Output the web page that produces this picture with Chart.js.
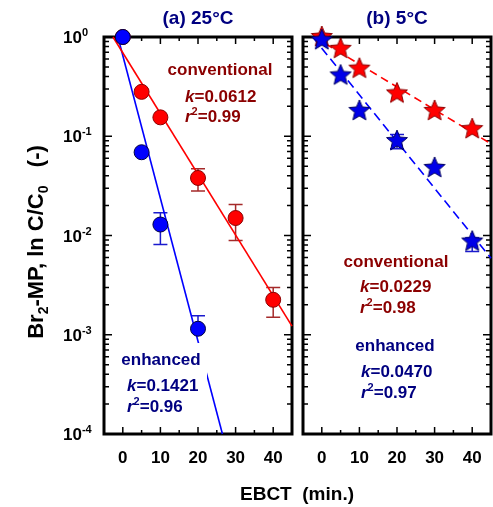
<!DOCTYPE html>
<html>
<head>
<meta charset="utf-8">
<script src="https://cdn.jsdelivr.net/npm/chart.js@4.4.1/dist/chart.umd.min.js"></script>
<style>
  body { margin: 0; background: #fff; }
  #wrap { position: relative; width: 493px; height: 507px; overflow: hidden; }
  #wrap canvas { position: absolute; left: 0; top: 0; }
</style>
</head>
<body>
<div id="wrap">
  <canvas id="panelA" width="493" height="507"></canvas>
  <canvas id="panelB" width="540" height="507"></canvas>
</div>
<script>
// ---------------- data ----------------
const ebct = [0, 5, 10, 20, 30, 40];

// (a) 25 C
const conv25 = [1.0, 0.28, 0.155, 0.038, 0.015, 0.00225];
const conv25Hi = [null, null, null, 0.047, 0.0205, 0.0030];
const conv25Lo = [null, null, null, 0.028, 0.0089, 0.0015];
const enh25X = [0, 5, 10, 20];
const enh25 = [1.0, 0.069, 0.0129, 0.00115];
const enh25Hi = [null, null, 0.017, 0.00155];
const enh25Lo = [null, null, 0.0081, null];
// fitted lines, end points
const conv25FitX = [-2.6, 45];
const conv25Fit = [1, 0.00122];
const enh25FitX = [-1.3, 26.5];
const enh25Fit = [1, 0.0001];

// (b) 5 C
const conv5 = [1.0, 0.76, 0.48, 0.27, 0.18, 0.118];
const enh5 = [0.93, 0.41, 0.18, 0.0895, 0.048, 0.0087];
const enh5Hi = [null, null, null, 0.104, null, 0.0095];
const enh5Lo = [null, null, null, 0.075, null, 0.0069];
const conv5FitX = [-2, 45];
const conv5Fit = [1, 0.084];
const enh5FitX = [-2.4, 45];
const enh5Fit = [1, 0.0059];

// axis ticks
const xTickLabels = [0, 10, 20, 30, 40];
const yTickExps = [0, -1, -2, -3, -4];

// ---------------- helpers ----------------
const FONT = '"Liberation Sans", Arial, sans-serif';
const DARKRED = '#8b0000';
const NAVY = '#000080';

function fnt(size, italic) {
    return (italic ? 'italic ' : '') + 'bold ' + size + 'px ' + FONT;
}

function drawRich(ctx, parts, x, y, align) {
    let w = 0;
    parts.forEach(p => { ctx.font = fnt(p.size, p.italic); w += ctx.measureText(p.t).width; });
    let cx = align === 'center' ? x - w / 2 : (align === 'right' ? x - w : x);
    ctx.textAlign = 'left';
    ctx.textBaseline = 'alphabetic';
    parts.forEach(p => {
        ctx.font = fnt(p.size, p.italic);
        ctx.fillText(p.t, cx, y + (p.dy || 0));
        cx += ctx.measureText(p.t).width;
    });
    return w;
}

function kLine(v) { return [{ t: 'k', size: 17, italic: true }, { t: '=' + v, size: 17 }]; }
function rLine(v) { return [{ t: 'r', size: 17, italic: true }, { t: '2', size: 11, dy: -7 }, { t: '=' + v, size: 17 }]; }

function starImage(fill, stroke, r) {
    const c = document.createElement('canvas');
    const s = Math.ceil(r * 2 + 4);
    c.width = s; c.height = s;
    const g = c.getContext('2d');
    g.beginPath();
    for (let i = 0; i < 10; i++) {
        const rr = i % 2 ? r * 0.45 : r;
        const a = -Math.PI / 2 + i * Math.PI / 5;
        g.lineTo(s / 2 + rr * Math.cos(a), s / 2 + rr * Math.sin(a));
    }
    g.closePath();
    g.fillStyle = fill; g.fill();
    g.lineWidth = 1; g.strokeStyle = stroke; g.stroke();
    return c;
}

function pts(xs, ys) { return xs.map((x, i) => ({ x: x, y: ys[i] })); }

// ---------------- frame, ticks, error bars, text ----------------
const panelPlugin = {
    id: 'panel',
    beforeDatasetsDraw(chart, args, opts) {
        const ctx = chart.ctx, a = chart.chartArea;
        const xs = chart.scales.x, ys = chart.scales.y;
        ctx.save();
        ctx.strokeStyle = '#000';
        ctx.lineWidth = 1.5;
        ctx.beginPath();
        for (let v = 0; v <= 40; v += 5) {
            const px = xs.getPixelForValue(v);
            const len = v % 10 === 0 ? 7 : 4;
            ctx.moveTo(px, a.bottom); ctx.lineTo(px, a.bottom - len);
            ctx.moveTo(px, a.top); ctx.lineTo(px, a.top + len);
        }
        for (let e = -4; e <= 0; e++) {
            for (let m = 1; m <= 9; m++) {
                const val = m * Math.pow(10, e);
                if (val > 1 || (e === 0 && m > 1)) continue;
                const py = ys.getPixelForValue(val);
                const len = m === 1 ? 8 : 5;
                ctx.moveTo(a.left, py); ctx.lineTo(a.left + len, py);
                ctx.moveTo(a.right, py); ctx.lineTo(a.right - len, py);
            }
        }
        ctx.stroke();
        ctx.lineWidth = 3;
        ctx.strokeRect(a.left, a.top, a.right - a.left, a.bottom - a.top);

        // error bars
        chart.data.datasets.forEach(ds => {
            if (!ds.errHi && !ds.errLo) return;
            ctx.strokeStyle = ds.errColor;
            ctx.lineWidth = 1.5;
            ds.data.forEach((p, i) => {
                const px = xs.getPixelForValue(p.x);
                const py = ys.getPixelForValue(p.y);
                [ds.errHi && ds.errHi[i], ds.errLo && ds.errLo[i]].forEach(v => {
                    if (v == null) return;
                    const ey = ys.getPixelForValue(v);
                    ctx.beginPath();
                    ctx.moveTo(px, py); ctx.lineTo(px, ey);
                    ctx.moveTo(px - 7, ey); ctx.lineTo(px + 7, ey);
                    ctx.stroke();
                });
            });
        });
        ctx.restore();
    },
    afterDraw(chart, args, opts) {
        const ctx = chart.ctx, a = chart.chartArea;
        const xs = chart.scales.x, ys = chart.scales.y;
        ctx.save();
        // white boxes behind text blocks
        (opts.boxes || []).forEach(b => {
            ctx.fillStyle = '#fff';
            ctx.fillRect(b[0], b[1], b[2], b[3]);
        });
        // annotations
        (opts.texts || []).forEach(t => {
            ctx.fillStyle = t.color;
            drawRich(ctx, t.parts, t.x, t.y, t.align);
        });
        // x tick labels
        ctx.fillStyle = '#000';
        xTickLabels.forEach(v => {
            drawRich(ctx, [{ t: String(v), size: 17 }], xs.getPixelForValue(v), 463, 'center');
        });
        // y tick labels
        if (opts.yLabels) {
            yTickExps.forEach(e => {
                const py = ys.getPixelForValue(Math.pow(10, e));
                drawRich(ctx, [{ t: '10', size: 17 }, { t: String(e), size: 11, dy: -7 }], 63, py + 6, 'left');
            });
        }
        // panel title
        ctx.fillStyle = NAVY;
        drawRich(ctx, [{ t: opts.title, size: 19 }], (a.left + a.right) / 2, 24, 'center');

        if (opts.axisTitles) {
            ctx.fillStyle = '#000';
            drawRich(ctx, [{ t: 'EBCT  (min.)', size: 19 }], 297, 500, 'center');
            ctx.translate(43, 242);
            ctx.rotate(-Math.PI / 2);
            drawRich(ctx, [
                { t: 'Br', size: 22 }, { t: '2', size: 14, dy: 5 },
                { t: '-MP, ln C/C', size: 22 }, { t: '0', size: 14, dy: 5 },
                { t: '   (-)', size: 22 }
            ], 0, 0, 'center');
        }
        ctx.restore();
    }
};

function makePanel(id, datasets, padLeft, padRight, opts) {
    return new Chart(document.getElementById(id), {
        type: 'scatter',
        data: { datasets: datasets },
        options: {
            responsive: false,
            animation: false,
            layout: { padding: { left: padLeft, right: padRight, top: 37, bottom: 73 } },
            scales: {
                x: { type: 'linear', min: -5, max: 45, display: false, ticks: { display: false }, grid: { display: false } },
                y: { type: 'logarithmic', min: 0.0001, max: 1, display: false, ticks: { display: false }, grid: { display: false } }
            },
            plugins: { legend: { display: false }, tooltip: { enabled: false }, panel: opts }
        },
        plugins: [panelPlugin]
    });
}

function fitLine(xs, ys, color, dash) {
    return {
        type: 'line', data: pts(xs, ys), borderColor: color, borderWidth: 1.6,
        borderDash: dash || [], pointRadius: 0, fill: false, clip: false, order: 10
    };
}

// ---------------- (a) 25 C ----------------
makePanel('panelA', [
    fitLine(conv25FitX, conv25Fit, '#ff0000'),
    fitLine(enh25FitX, enh25Fit, '#0000ff'),
    {
        data: pts(ebct, conv25), errHi: conv25Hi, errLo: conv25Lo, errColor: '#a52a2a',
        pointRadius: 7.5, backgroundColor: '#ff0000', borderColor: '#8b0000', borderWidth: 1,
        clip: false, order: 2
    },
    {
        data: pts(enh25X, enh25), errHi: enh25Hi, errLo: enh25Lo, errColor: '#1a1acd',
        pointRadius: 7.5, backgroundColor: '#0000ff', borderColor: '#000040', borderWidth: 1,
        clip: false, order: 1
    }
], 104, 201, {
    title: '(a) 25°C', yLabels: true, axisTitles: true,
    boxes: [[117, 343, 90, 73]],
    texts: [
        { parts: [{ t: 'conventional', size: 17 }], x: 220, y: 75, align: 'center', color: DARKRED },
        { parts: kLine('0.0612'), x: 185, y: 102, align: 'left', color: DARKRED },
        { parts: rLine('0.99'), x: 185, y: 122, align: 'left', color: DARKRED },
        { parts: [{ t: 'enhanced', size: 17 }], x: 161, y: 365, align: 'center', color: NAVY },
        { parts: kLine('0.1421'), x: 127, y: 391, align: 'left', color: NAVY },
        { parts: rLine('0.96'), x: 127, y: 412, align: 'left', color: NAVY }
    ]
});

// ---------------- (b) 5 C ----------------
// canvas is wider than the window; padding puts the plot's right edge at x=491
makePanel('panelB', [
    fitLine(conv5FitX, conv5Fit, '#ff0000', [8, 5]),
    fitLine(enh5FitX, enh5Fit, '#0000ff', [9, 5]),
    {
        data: pts(ebct, conv5), pointStyle: starImage('#ff0000', '#8b0000', 11),
        pointRadius: 11, clip: false, order: 2
    },
    {
        data: pts(ebct, enh5), errHi: enh5Hi, errLo: enh5Lo, errColor: '#1a1acd',
        pointStyle: starImage('#0000e8', '#000060', 11),
        pointRadius: 11, clip: false, order: 1
    }
], 303, 540 - 491, {
    title: '(b) 5°C', yLabels: false, axisTitles: false,
    boxes: [],
    texts: [
        { parts: [{ t: 'conventional', size: 17 }], x: 396, y: 267, align: 'center', color: DARKRED },
        { parts: kLine('0.0229'), x: 360, y: 292, align: 'left', color: DARKRED },
        { parts: rLine('0.98'), x: 360, y: 313, align: 'left', color: DARKRED },
        { parts: [{ t: 'enhanced', size: 17 }], x: 395, y: 351, align: 'center', color: NAVY },
        { parts: kLine('0.0470'), x: 361, y: 377, align: 'left', color: NAVY },
        { parts: rLine('0.97'), x: 361, y: 398, align: 'left', color: NAVY }
    ]
});
</script>
</body>
</html>
